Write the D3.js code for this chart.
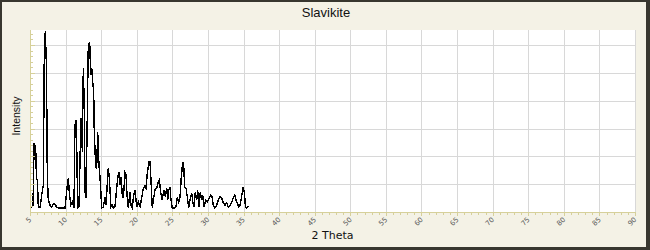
<!DOCTYPE html>
<html lang="en">
<head>
    <script src="https://d3js.org/d3.v7.min.js"></script>
</head>
<body style="margin:0">
<style>
    body { background: #fff; }
    .grid line { stroke: #d8d8d8; stroke-width: 1px; }
    .tickmark { stroke: #d6d09a; stroke-width: 1px; }
    .tick-label { font-family: "DejaVu Sans", sans-serif; font-size: 7px; fill: #5a5a5a; }
</style>
<svg></svg>
</body>
<script>
    const width = 650;
    const height = 250;

    // 2 theta (deg) and intensity
    const twoTheta = [5.14, 5.42, 5.58, 5.68, 5.79, 5.90, 6.05, 6.17, 6.41, 6.64, 6.87, 7.01, 7.15, 7.32, 7.43, 7.57,
        7.81, 8.05, 8.37, 8.75, 9.07, 9.45, 9.92, 10.24, 10.38, 10.52, 10.72, 10.94, 11.18, 11.32, 11.46,
        11.56, 11.70, 11.88, 12.03, 12.17, 12.26, 12.35, 12.49, 12.63, 12.73, 12.87, 13.01, 13.19, 13.39, 13.53,
        13.67, 13.81, 13.95, 14.03, 14.23, 14.37, 14.51, 14.69, 14.88, 15.07, 15.30, 15.54, 15.68, 16.00, 16.14,
        16.38, 16.56, 16.70, 16.94, 17.18, 17.32, 17.50, 17.65, 17.79, 17.97, 18.11, 18.35, 18.49, 18.63, 18.81,
        19.05, 19.19, 19.37, 19.57, 19.75, 19.99, 20.22, 20.46, 20.69, 20.92, 21.16, 21.30, 21.48, 21.72, 21.86,
        22.00, 22.18, 22.38, 22.56, 22.80, 23.03, 23.17, 23.36, 23.55, 23.73, 23.87, 24.01, 24.21, 24.35, 24.49,
        24.67, 24.81, 24.99, 25.27, 25.51, 25.70, 25.89, 26.08, 26.26, 26.46, 26.60, 26.74, 26.92, 27.10, 27.30,
        27.48, 27.72, 27.90, 28.04, 28.23, 28.42, 28.56, 28.74, 28.93, 29.12, 29.26, 29.45, 29.69, 29.91, 30.15,
        30.39, 30.57, 30.75, 30.99, 31.23, 31.46, 31.70, 31.93, 32.16, 32.40, 32.64, 32.86, 33.10, 33.34, 33.57,
        33.76, 33.95, 34.13, 34.33, 34.52, 34.76, 34.94, 35.13, 35.27, 35.46, 35.69];
    const intensity = [155, 250, 2480, 2250, 2400, 1250, 1100, 155, 155, 610, 970, 5720, 6500, 5180, 1330, 430,
        250, 180, 320, 180, 145, 145, 145, 970, 1220, 720, 250, 360, 155, 3130, 3310,
        2410, 155, 180, 1940, 3380, 3130, 2160, 5180, 3740, 720, 500, 2770, 6010, 6080, 4930,
        5180, 4680, 4320, 2880, 1620, 1580, 2880, 1690, 1080, 155, 180, 540, 250, 1580, 1220,
        180, 250, 145, 180, 860, 1220, 1440, 970, 1260, 610, 500, 1400, 1330, 610, 155,
        720, 250, 155, 610, 790, 180, 360, 190, 500, 860, 940, 860, 1400, 1800, 1800,
        1150, 145, 500, 790, 860, 1080, 1150, 720, 430, 680, 790, 540, 860, 430, 790,
        900, 430, 145, 145, 180, 540, 360, 540, 1260, 1800, 1620, 900, 860, 540, 145,
        430, 680, 320, 180, 720, 430, 790, 180, 720, 430, 610, 180, 430, 360, 500,
        610, 540, 250, 145, 250, 430, 540, 500, 320, 250, 320, 180, 220, 360, 500,
        610, 430, 320, 180, 250, 610, 900, 680, 180, 145, 220];

    const xDomain = [5, 90];
    const yDomain = [0, 6540];
    const xMajor = d3.range(5, 91, 5);
    const xMinor = d3.range(5, 91, 1);
    const yMajor = d3.range(0, 6001, 1000);
    const yMinor = d3.range(0, 6541, 200);

    const plot = {left: 30, right: 635, top: 30, bottom: 212};

    const svg = d3.select('svg').attr('width', width).attr('height', height);

    // frame
    svg.append('rect').attr('width', width).attr('height', height).attr('fill', '#38372f');
    svg.append('rect').attr('x', 2).attr('y', 2).attr('width', width - 6).attr('height', height - 5)
        .attr('fill', '#f4f2e6');

    const x = d3.scaleLinear().domain(xDomain).range([plot.left, plot.right]);
    const y = d3.scaleLinear().domain(yDomain).range([plot.bottom, plot.top]);

    svg.append('rect')
        .attr('x', plot.left).attr('y', plot.top)
        .attr('width', plot.right - plot.left).attr('height', plot.bottom - plot.top)
        .attr('fill', '#fff');

    // grid
    const grid = svg.append('g').attr('class', 'grid');
    grid.selectAll('.vx').data(xMajor.slice(1)).enter().append('line')
        .attr('x1', d => Math.round(x(d)) + 0.5).attr('x2', d => Math.round(x(d)) + 0.5)
        .attr('y1', plot.top).attr('y2', plot.bottom);
    grid.selectAll('.hy').data(yMajor.slice(1)).enter().append('line')
        .attr('x1', plot.left).attr('x2', plot.right)
        .attr('y1', d => Math.round(y(d)) + 0.5).attr('y2', d => Math.round(y(d)) + 0.5);

    // data
    const line = d3.line()
        .x((d, i) => x(twoTheta[i]))
        .y(d => y(d));
    svg.append('path')
        .datum(intensity)
        .attr('d', line)
        .attr('fill', 'none')
        .attr('stroke', '#000')
        .attr('stroke-width', 1.4)
        .attr('shape-rendering', 'crispEdges');

    // axes (custom ticks)
    const ax = svg.append('g');
    ax.append('line').attr('class', 'tickmark')
        .attr('x1', plot.left).attr('x2', plot.right + 1)
        .attr('y1', plot.bottom + 0.5).attr('y2', plot.bottom + 0.5);
    ax.append('line').attr('class', 'tickmark')
        .attr('x1', plot.left + 0.5).attr('x2', plot.left + 0.5)
        .attr('y1', plot.top).attr('y2', plot.bottom);

    ax.selectAll('.xt').data(xMinor).enter().append('line').attr('class', 'tickmark')
        .attr('x1', d => Math.round(x(d)) + 0.5).attr('x2', d => Math.round(x(d)) + 0.5)
        .attr('y1', plot.bottom).attr('y2', d => plot.bottom + (d % 5 === 0 ? 4 : 3));
    ax.selectAll('.yt').data(yMinor).enter().append('line').attr('class', 'tickmark')
        .attr('x1', plot.left).attr('x2', d => plot.left + (d % 1000 === 0 ? 5 : 3))
        .attr('y1', d => Math.round(y(d)) + 0.5).attr('y2', d => Math.round(y(d)) + 0.5);

    ax.selectAll('.xl').data(xMajor).enter().append('text')
        .attr('class', 'tick-label')
        .attr('text-anchor', 'end')
        .attr('transform', d => `translate(${x(d) + 2},${plot.bottom + 8}) rotate(-45)`)
        .text(d => d);

    // titles
    svg.append('text')
        .attr('x', 326).attr('y', 17)
        .attr('text-anchor', 'middle')
        .style('font-family', '"Liberation Sans", Arial, sans-serif')
        .style('font-size', '13px')
        .attr('fill', '#111')
        .text('Slavikite');

    svg.append('text')
        .attr('x', (plot.left + plot.right) / 2).attr('y', 239)
        .attr('text-anchor', 'middle')
        .style('font-family', '"DejaVu Sans", sans-serif')
        .style('font-size', '11px')
        .attr('fill', '#111')
        .text('2 Theta');

    svg.append('text')
        .attr('transform', `translate(20,116) rotate(-90)`)
        .attr('text-anchor', 'middle')
        .style('font-family', '"Liberation Sans", Arial, sans-serif')
        .style('font-size', '10.5px')
        .attr('fill', '#111')
        .text('Intensity');
</script>
</html>
